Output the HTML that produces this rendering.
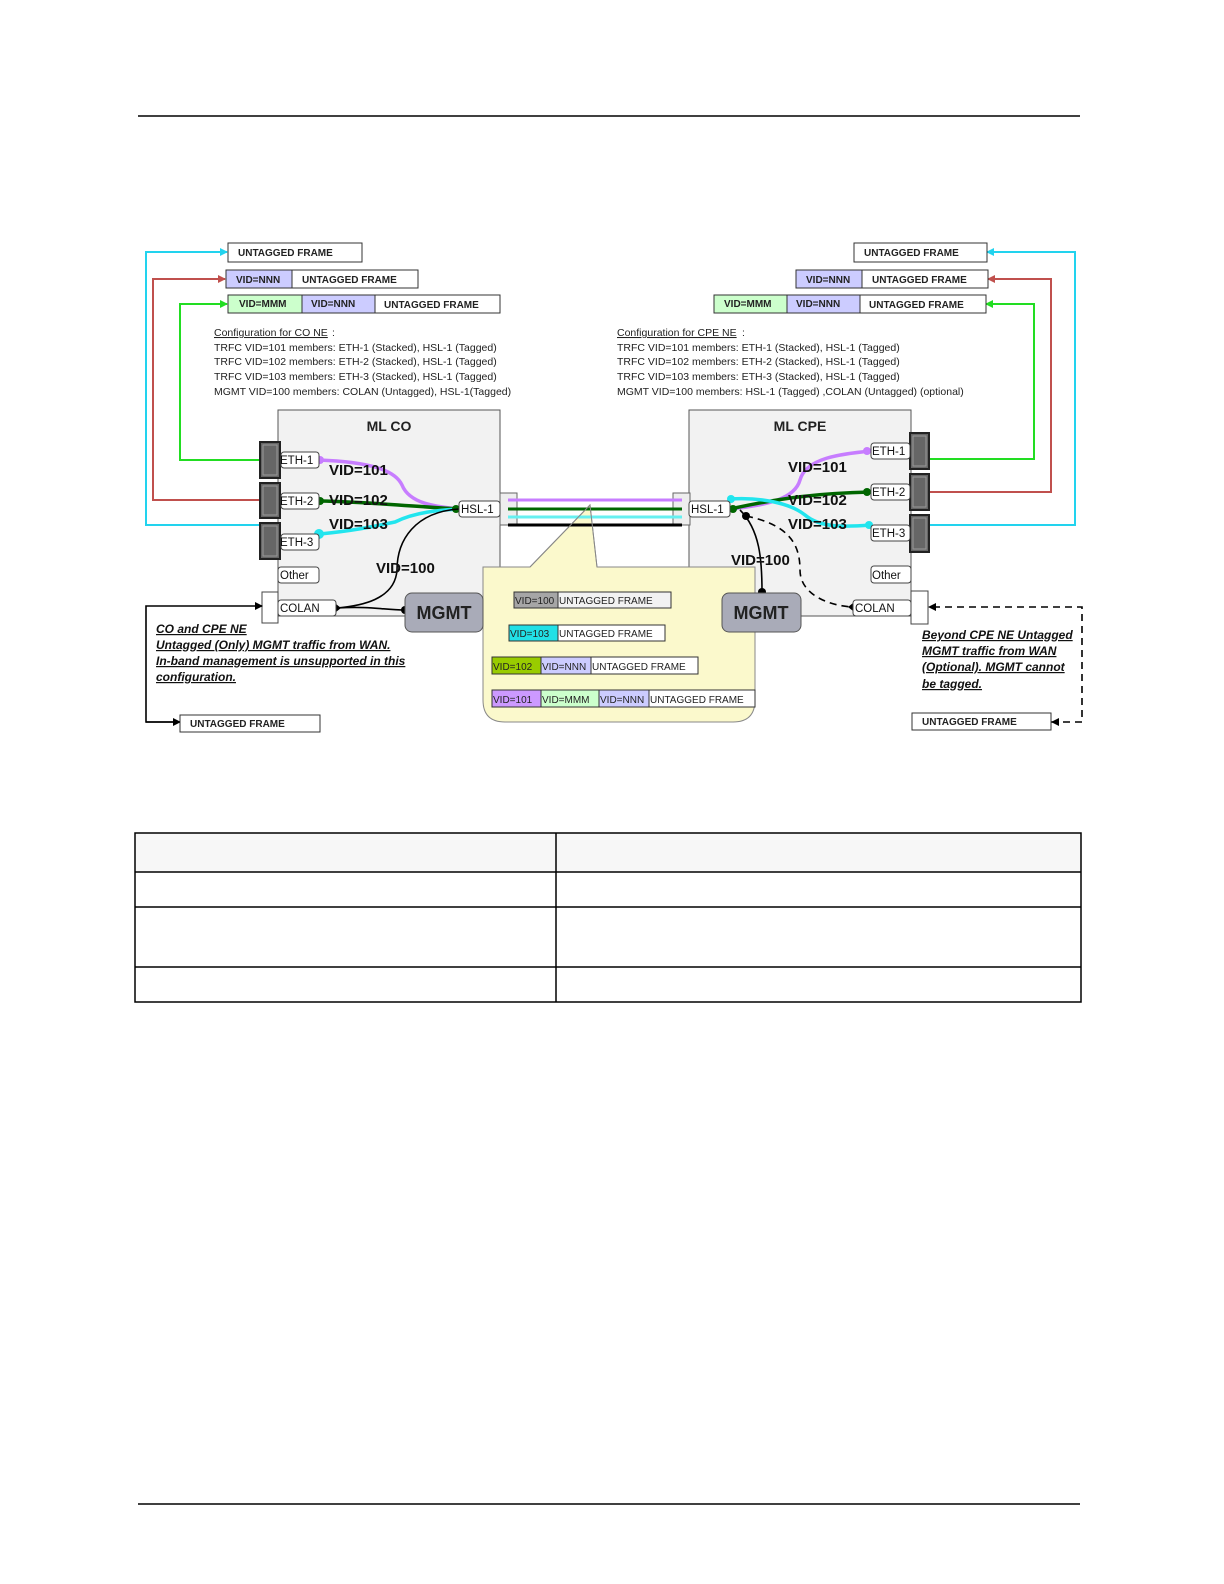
<!DOCTYPE html>
<html><head><meta charset="utf-8"><style>
html,body{margin:0;padding:0;background:#fff;}
svg{display:block;}
text{font-family:"Liberation Sans",sans-serif;}
.f{font-size:10px;font-weight:bold;fill:#222;}
.c{font-size:10.5px;fill:#222;}
.p{font-size:11.5px;fill:#111;}
.v{font-size:15px;font-weight:bold;fill:#111;}
.n{font-size:12px;font-style:italic;font-weight:bold;fill:#111;text-decoration:underline;}
</style></head><body>
<svg width="1224" height="1584" viewBox="0 0 1224 1584" xmlns="http://www.w3.org/2000/svg">
<defs>
<marker id="ac" markerWidth="8" markerHeight="8" refX="7" refY="4" orient="auto" markerUnits="userSpaceOnUse"><path d="M0,0 L8,4 L0,8 z" fill="#22d3ee"/></marker>
<marker id="ar" markerWidth="8" markerHeight="8" refX="7" refY="4" orient="auto" markerUnits="userSpaceOnUse"><path d="M0,0 L8,4 L0,8 z" fill="#c0504d"/></marker>
<marker id="ag" markerWidth="8" markerHeight="8" refX="7" refY="4" orient="auto" markerUnits="userSpaceOnUse"><path d="M0,0 L8,4 L0,8 z" fill="#22dd22"/></marker>
<marker id="ak" markerWidth="8" markerHeight="8" refX="7" refY="4" orient="auto" markerUnits="userSpaceOnUse"><path d="M0,0 L8,4 L0,8 z" fill="#000"/></marker>
</defs>
<line x1="138" y1="116" x2="1080" y2="116" stroke="#000" stroke-width="1.5"/>
<line x1="138" y1="1504" x2="1080" y2="1504" stroke="#000" stroke-width="1.5"/>

<!-- left connector lines -->
<polyline points="259,525 146,525 146,252 227,252" fill="none" stroke="#22d3ee" stroke-width="2" marker-end="url(#ac)"/>
<polyline points="259,500 153,500 153,279 225,279" fill="none" stroke="#c0504d" stroke-width="2" marker-end="url(#ar)"/>
<polyline points="259,460 180,460 180,304 227,304" fill="none" stroke="#22dd22" stroke-width="2" marker-end="url(#ag)"/>
<line x1="256" y1="525" x2="259" y2="525" stroke="#22d3ee" stroke-width="2"/>
<!-- right connector lines -->
<polyline points="930,525 1075,525 1075,252 987,252" fill="none" stroke="#22d3ee" stroke-width="2" marker-end="url(#ac)"/>
<polyline points="930,492 1051,492 1051,279 988,279" fill="none" stroke="#c0504d" stroke-width="2" marker-end="url(#ar)"/>
<polyline points="930,459 1034,459 1034,304 986,304" fill="none" stroke="#22dd22" stroke-width="2" marker-end="url(#ag)"/>
<line x1="930" y1="525" x2="935" y2="525" stroke="#22d3ee" stroke-width="2"/>

<!-- left frames -->
<rect x="228" y="243" width="134" height="19" fill="#fff" stroke="#333"/>
<text class="f" x="238" y="256">UNTAGGED FRAME</text>
<rect x="226" y="270" width="66" height="18" fill="#ccccff" stroke="#333"/>
<rect x="292" y="270" width="126" height="18" fill="#fff" stroke="#333"/>
<text class="f" x="236" y="283">VID=NNN</text><text class="f" x="302" y="283">UNTAGGED FRAME</text>
<rect x="228" y="295" width="74" height="18" fill="#ccffcc" stroke="#333"/>
<rect x="302" y="295" width="73" height="18" fill="#ccccff" stroke="#333"/>
<rect x="375" y="295" width="125" height="18" fill="#fff" stroke="#333"/>
<text class="f" x="239" y="307">VID=MMM</text><text class="f" x="311" y="307">VID=NNN</text><text class="f" x="384" y="308">UNTAGGED FRAME</text>

<!-- right frames -->
<rect x="854" y="243" width="133" height="19" fill="#fff" stroke="#333"/>
<text class="f" x="864" y="256">UNTAGGED FRAME</text>
<rect x="796" y="270" width="66" height="18" fill="#ccccff" stroke="#333"/>
<rect x="862" y="270" width="126" height="18" fill="#fff" stroke="#333"/>
<text class="f" x="806" y="283">VID=NNN</text><text class="f" x="872" y="283">UNTAGGED FRAME</text>
<rect x="714" y="295" width="73" height="18" fill="#ccffcc" stroke="#333"/>
<rect x="787" y="295" width="73" height="18" fill="#ccccff" stroke="#333"/>
<rect x="860" y="295" width="126" height="18" fill="#fff" stroke="#333"/>
<text class="f" x="724" y="307">VID=MMM</text><text class="f" x="796" y="307">VID=NNN</text><text class="f" x="869" y="308">UNTAGGED FRAME</text>

<!-- config text -->
<text class="c" x="214" y="336" text-decoration="underline">Configuration for CO NE</text><text class="c" x="332" y="336">:</text>
<text class="c" x="214" y="351">TRFC VID=101 members: ETH-1 (Stacked), HSL-1 (Tagged)</text>
<text class="c" x="214" y="365">TRFC VID=102 members: ETH-2 (Stacked), HSL-1 (Tagged)</text>
<text class="c" x="214" y="380">TRFC VID=103 members: ETH-3 (Stacked), HSL-1 (Tagged)</text>
<text class="c" x="214" y="395">MGMT VID=100 members: COLAN (Untagged), HSL-1(Tagged)</text>
<text class="c" x="617" y="336" text-decoration="underline">Configuration for CPE NE</text><text class="c" x="742" y="336">:</text>
<text class="c" x="617" y="351">TRFC VID=101 members: ETH-1 (Stacked), HSL-1 (Tagged)</text>
<text class="c" x="617" y="365">TRFC VID=102 members: ETH-2 (Stacked), HSL-1 (Tagged)</text>
<text class="c" x="617" y="380">TRFC VID=103 members: ETH-3 (Stacked), HSL-1 (Tagged)</text>
<text class="c" x="617" y="395">MGMT VID=100 members: HSL-1 (Tagged) ,COLAN (Untagged) (optional)</text>

<!-- CO box -->
<rect x="278" y="410" width="222" height="206" fill="#f2f2f2" stroke="#555"/>
<text x="389" y="431" text-anchor="middle" font-size="14" font-weight="bold" fill="#222">ML CO</text>
<!-- CPE box -->
<rect x="689" y="410" width="222" height="206" fill="#f2f2f2" stroke="#555"/>
<text x="800" y="431" text-anchor="middle" font-size="14" font-weight="bold" fill="#222">ML CPE</text>

<!-- link between -->
<rect x="500" y="493" width="17" height="32" fill="#eeeeee" stroke="#666"/>
<rect x="673" y="493" width="17" height="32" fill="#eeeeee" stroke="#666"/>
<!-- callout -->
<path d="M530,567 L590,505 L597,567 L755,567 L755,700 Q755,722 733,722 L505,722 Q483,722 483,700 L483,567 Z" fill="#fbf9cc" stroke="#888"/>
<line x1="508" y1="500" x2="682" y2="500" stroke="#c77dff" stroke-width="3"/>
<line x1="508" y1="509" x2="682" y2="509" stroke="#006600" stroke-width="3"/>
<line x1="508" y1="517" x2="682" y2="517" stroke="#66f0f0" stroke-width="3"/>
<line x1="508" y1="525" x2="682" y2="525" stroke="#000" stroke-width="3"/>
<path d="M530,567 L590,505 L597,567" fill="none" stroke="#888"/>

<!-- callout frames -->
<g class="f" font-weight="normal">
<rect x="514" y="592" width="44" height="16" fill="#a6a6a6" stroke="#333"/>
<rect x="558" y="592" width="113" height="16" fill="#f2f2f2" stroke="#333"/>
<rect x="509" y="625" width="49" height="16" fill="#22e0e6" stroke="#333"/>
<rect x="558" y="625" width="107" height="16" fill="#fff" stroke="#333"/>
<rect x="492" y="657" width="49" height="17" fill="#99cc00" stroke="#333"/>
<rect x="541" y="657" width="50" height="17" fill="#ccccff" stroke="#333"/>
<rect x="591" y="657" width="107" height="17" fill="#fff" stroke="#333"/>
<rect x="492" y="690" width="49" height="17" fill="#cc99ff" stroke="#333"/>
<rect x="541" y="690" width="58" height="17" fill="#ccffcc" stroke="#333"/>
<rect x="599" y="690" width="50" height="17" fill="#ccccff" stroke="#333"/>
<rect x="649" y="690" width="106" height="17" fill="#fff" stroke="#333"/>
</g>
<g font-size="10" fill="#222">
<text x="515" y="604">VID=100</text><text x="559" y="604">UNTAGGED FRAME</text>
<text x="510" y="637">VID=103</text><text x="559" y="637">UNTAGGED FRAME</text>
<text x="493" y="670">VID=102</text><text x="542" y="670">VID=NNN</text><text x="592" y="670">UNTAGGED FRAME</text>
<text x="493" y="703">VID=101</text><text x="542" y="703">VID=MMM</text><text x="600" y="703">VID=NNN</text><text x="650" y="703">UNTAGGED FRAME</text>
</g>

<!-- CO ports -->
<g fill="#666" stroke="#222" stroke-width="2">
<rect x="260" y="442" width="20" height="36"/><rect x="260" y="483" width="20" height="35"/><rect x="260" y="523" width="20" height="36"/>
<rect x="910" y="433" width="19" height="36"/><rect x="910" y="474" width="19" height="36"/><rect x="910" y="515" width="19" height="37"/>
</g>
<g fill="none" stroke="#999" stroke-width="1">
<rect x="263" y="445" width="14" height="30"/><rect x="263" y="486" width="14" height="29"/><rect x="263" y="526" width="14" height="30"/>
<rect x="913" y="436" width="13" height="30"/><rect x="913" y="477" width="13" height="30"/><rect x="913" y="518" width="13" height="31"/>
</g>

<!-- CO curves -->
<path d="M319,460 C370,462 395,470 402,485 C410,505 440,507 459,509" fill="none" stroke="#c77dff" stroke-width="3.5"/>
<circle cx="320" cy="460" r="4" fill="#c77dff"/>
<path d="M321,501 C370,502 420,507 459,509" fill="none" stroke="#006600" stroke-width="3.5"/>
<circle cx="320" cy="501" r="4" fill="#006600"/>
<path d="M320,534 C360,530 380,525 395,522 C415,512 440,510 459,509" fill="none" stroke="#22e5ee" stroke-width="3.5"/>
<circle cx="319" cy="534" r="5" fill="#22e5ee"/>
<circle cx="456" cy="509" r="4" fill="#006600"/>
<path d="M459,509 C415,512 397,540 397,570 C395,600 360,606 337,608" fill="none" stroke="#000" stroke-width="1.6"/>
<path d="M337,608 C370,606 385,610 405,610" fill="none" stroke="#000" stroke-width="1.6"/>
<circle cx="405" cy="610" r="4" fill="#000"/>
<path d="M336,604 L341,608 L336,612 z" fill="#000"/>

<!-- CO labels -->
<g fill="#fff" stroke="#444">
<rect x="281" y="452" width="38" height="16" rx="3"/>
<rect x="281" y="493" width="38" height="16" rx="3"/>
<rect x="281" y="534" width="38" height="16" rx="3"/>
<rect x="278" y="567" width="41" height="16" rx="3"/>
<rect x="278" y="600" width="58" height="16" rx="3"/>
<rect x="262" y="592" width="16" height="31"/>
<rect x="459" y="501" width="41" height="16" rx="3"/>
</g>
<g class="p">
<text x="280" y="464">ETH-1</text><text x="280" y="505">ETH-2</text><text x="280" y="546">ETH-3</text>
<text x="280" y="579">Other</text><text x="280" y="612">COLAN</text><text x="461" y="513">HSL-1</text>
</g>
<text class="v" x="329" y="475">VID=101</text>
<text class="v" x="329" y="505">VID=102</text>
<text class="v" x="329" y="529">VID=103</text>
<text class="v" x="376" y="573">VID=100</text>
<rect x="405" y="593" width="78" height="39" rx="7" fill="#a9abb8" stroke="#555"/>
<text x="444" y="619" text-anchor="middle" font-size="18" font-weight="bold" fill="#222">MGMT</text>

<!-- CPE curves -->
<path d="M730,509 C770,505 795,498 800,480 C806,458 840,454 871,451" fill="none" stroke="#c77dff" stroke-width="3.5"/>
<circle cx="867" cy="451" r="4" fill="#c77dff"/>
<path d="M730,509 C780,498 820,493 871,492" fill="none" stroke="#006600" stroke-width="3.5"/>
<circle cx="867" cy="492" r="4" fill="#006600"/>
<path d="M730,499 C760,497 790,503 805,515 C820,528 845,527 871,525" fill="none" stroke="#22e5ee" stroke-width="3.5"/>
<circle cx="731" cy="499" r="4" fill="#22e5ee"/><circle cx="869" cy="525" r="4" fill="#22e5ee"/>
<circle cx="733" cy="509" r="4" fill="#006600"/>
<path d="M740,510 C760,530 762,560 762,592" fill="none" stroke="#000" stroke-width="1.6"/>
<circle cx="746" cy="516" r="4" fill="#000"/><circle cx="762" cy="592" r="4" fill="#000"/>
<path d="M746,516 C790,525 800,545 800,570 C800,595 830,606 853,607" fill="none" stroke="#000" stroke-width="1.6" stroke-dasharray="7,5"/>
<path d="M853,603 L848,607 L853,611 z" fill="#000"/>
<g fill="#fff" stroke="#444">
<rect x="871" y="443" width="39" height="16" rx="3"/>
<rect x="871" y="484" width="39" height="16" rx="3"/>
<rect x="871" y="525" width="39" height="16" rx="3"/>
<rect x="871" y="566" width="40" height="17" rx="3"/>
<rect x="853" y="600" width="58" height="16" rx="3"/>
<rect x="911" y="591" width="17" height="33"/>
<rect x="689" y="501" width="41" height="16" rx="3"/>
</g>
<g class="p">
<text x="872" y="455">ETH-1</text><text x="872" y="496">ETH-2</text><text x="872" y="537">ETH-3</text>
<text x="872" y="579">Other</text><text x="855" y="612">COLAN</text><text x="691" y="513">HSL-1</text>
</g>
<text class="v" x="788" y="472">VID=101</text>
<text class="v" x="788" y="505">VID=102</text>
<text class="v" x="788" y="529">VID=103</text>
<text class="v" x="731" y="565">VID=100</text>
<rect x="722" y="593" width="79" height="39" rx="7" fill="#a9abb8" stroke="#555"/>
<text x="761" y="619" text-anchor="middle" font-size="18" font-weight="bold" fill="#222">MGMT</text>

<!-- bottom left -->
<polyline points="180,722 146,722 146,606 262,606" fill="none" stroke="#000" stroke-width="1.6" marker-end="url(#ak)"/>
<line x1="146" y1="722" x2="180" y2="722" stroke="#000" stroke-width="1.6" marker-end="url(#ak)"/>
<rect x="180" y="715" width="140" height="17" fill="#fff" stroke="#333"/>
<text class="f" x="190" y="727">UNTAGGED FRAME</text>
<text class="n" x="156" y="633">CO and CPE NE</text>
<text class="n" x="156" y="649">Untagged (Only) MGMT  traffic from WAN.</text>
<text class="n" x="156" y="665">In-band management  is unsupported in this</text>
<text class="n" x="156" y="681">configuration.</text>

<!-- bottom right -->
<polyline points="1051,722 1082,722 1082,607 928,607" fill="none" stroke="#000" stroke-width="1.6" stroke-dasharray="7,5"/>
<path d="M936,603 L928,607 L936,611 z" fill="#000"/>
<path d="M1059,718 L1051,722 L1059,726 z" fill="#000"/>
<rect x="912" y="713" width="139" height="17" fill="#fff" stroke="#333"/>
<text class="f" x="922" y="725">UNTAGGED FRAME</text>
<text class="n" x="922" y="639">Beyond CPE NE Untagged</text>
<text class="n" x="922" y="655">MGMT traffic from WAN</text>
<text class="n" x="922" y="671">(Optional). MGMT  cannot</text>
<text class="n" x="922" y="688">be tagged.</text>

<!-- table -->
<rect x="135" y="833" width="946" height="39" fill="#f7f7f7"/>
<rect x="135" y="833" width="946" height="169" fill="none" stroke="#000" stroke-width="1.5"/>
<line x1="556" y1="833" x2="556" y2="1002" stroke="#000" stroke-width="1.5"/>
<line x1="135" y1="872" x2="1081" y2="872" stroke="#000" stroke-width="1.5"/>
<line x1="135" y1="907" x2="1081" y2="907" stroke="#000" stroke-width="1.5"/>
<line x1="135" y1="967" x2="1081" y2="967" stroke="#000" stroke-width="1.5"/>
</svg>
</body></html>
